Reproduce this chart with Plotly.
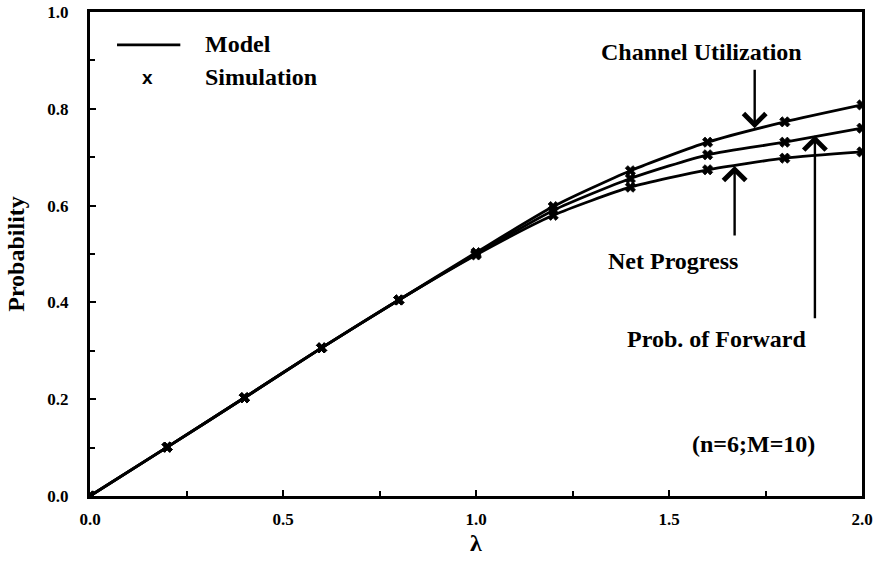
import plotly.graph_objects as go

# ---- data ----
lam = [0.0, 0.2, 0.4, 0.6, 0.8, 1.0, 1.2, 1.4, 1.6, 1.8, 2.0]

model_channel_util = [0.0, 0.101, 0.203, 0.306, 0.405, 0.503, 0.598, 0.672, 0.731, 0.773, 0.808]
model_prob_forward = [0.0, 0.101, 0.203, 0.306, 0.405, 0.500, 0.590, 0.656, 0.705, 0.731, 0.760]
model_net_progress = [0.0, 0.101, 0.203, 0.306, 0.405, 0.498, 0.580, 0.638, 0.674, 0.698, 0.711]

sim_channel_util = [0.0, 0.101, 0.203, 0.306, 0.405, 0.503, 0.598, 0.672, 0.731, 0.773, 0.808]
sim_prob_forward = [0.0, 0.101, 0.203, 0.306, 0.405, 0.500, 0.590, 0.656, 0.705, 0.731, 0.760]
sim_net_progress = [0.0, 0.101, 0.203, 0.306, 0.405, 0.498, 0.580, 0.638, 0.674, 0.698, 0.711]

x_ticks = [0.0, 0.5, 1.0, 1.5, 2.0]
x_tick_labels = ["0.0", "0.5", "1.0", "1.5", "2.0"]
y_ticks = [0.0, 0.2, 0.4, 0.6, 0.8, 1.0]
y_tick_labels = ["0.0", "0.2", "0.4", "0.6", "0.8", "1.0"]

SERIF = "Liberation Serif"

fig = go.Figure()
for ys in (model_channel_util, model_prob_forward, model_net_progress):
    fig.add_trace(go.Scatter(x=lam, y=ys, mode="lines",
                             line=dict(color="black", width=2.8, shape="spline", smoothing=0.6),
                             showlegend=False, hoverinfo="skip"))
for ys in (sim_channel_util, sim_prob_forward, sim_net_progress):
    fig.add_trace(go.Scatter(x=lam, y=ys, mode="markers",
                             marker=dict(symbol="x", size=9, color="black",
                                         line=dict(width=0.8, color="black")),
                             showlegend=False, hoverinfo="skip"))

# legend (drawn manually like the original)
fig.add_shape(type="line", xref="paper", yref="paper", x0=0.035, x1=0.117, y0=0.932, y1=0.932,
              line=dict(color="black", width=2.8))
legend_font = dict(family=SERIF, size=24, color="black", weight="bold")
fig.add_annotation(xref="paper", yref="paper", x=0.146, y=0.934, text="Model",
                   showarrow=False, xanchor="left", yanchor="middle", font=legend_font)
fig.add_annotation(xref="paper", yref="paper", x=0.146, y=0.866, text="Simulation",
                   showarrow=False, xanchor="left", yanchor="middle", font=legend_font)
fig.add_annotation(xref="paper", yref="paper", x=0.075, y=0.864, text="x",
                   showarrow=False, xanchor="center", yanchor="middle",
                   font=dict(family="Liberation Sans", size=19, color="black", weight="bold"))

lab_font = dict(family=SERIF, size=24, color="black", weight="bold")
labels = [
    ("Channel Utilization", 1.585, 0.917),
    ("Net Progress", 1.51, 0.486),
    ("Prob. of Forward", 1.625, 0.325),
    ("(n=6;M=10)", 1.72, 0.108),
]
for txt, tx, ty in labels:
    fig.add_annotation(x=tx, y=ty, text=txt, showarrow=False, xanchor="center",
                       yanchor="middle", font=lab_font)

arrows = [
    (1.722, 0.760, 0.884),
    (1.670, 0.682, 0.535),
    (1.878, 0.745, 0.364),
]
for axx, tip, tail in arrows:
    fig.add_annotation(x=axx, y=tip, ax=axx, ay=tail, xref="x", yref="y", axref="x", ayref="y",
                       text="", showarrow=True, arrowhead=4, arrowsize=1.8, arrowwidth=2.4,
                       arrowcolor="black")

fig.update_layout(
    width=873, height=563,
    margin=dict(l=90, r=11, t=12, b=67),
    paper_bgcolor="white", plot_bgcolor="white",
    showlegend=False,
)
fig.update_xaxes(
    range=[0, 2.0], tickvals=x_ticks, ticktext=x_tick_labels,
    ticks="inside", ticklen=6, tickwidth=2, tickcolor="black",
    minor=dict(dtick=0.25, ticks="inside", ticklen=5, tickwidth=2, tickcolor="black"),
    showline=True, linewidth=3, linecolor="black", mirror=True,
    showgrid=False, zeroline=False, automargin=False,
    tickfont=dict(family=SERIF, size=17, color="black", weight="bold"),
    ticklabelstandoff=6,
    title=dict(text="λ", font=dict(family=SERIF, size=24, color="black", weight="bold"), standoff=6),
)
fig.update_yaxes(
    range=[0, 1.0], tickvals=y_ticks, ticktext=y_tick_labels,
    ticks="inside", ticklen=6, tickwidth=2, tickcolor="black",
    minor=dict(dtick=0.1, ticks="inside", ticklen=5, tickwidth=2, tickcolor="black"),
    showline=True, linewidth=3, linecolor="black", mirror=True,
    showgrid=False, zeroline=False, automargin=False,
    tickfont=dict(family=SERIF, size=17, color="black", weight="bold"),
    ticklabelstandoff=15,
    title=dict(text="Probability", font=dict(family=SERIF, size=24, color="black", weight="bold"), standoff=16),
)

fig.write_html("out.html")
